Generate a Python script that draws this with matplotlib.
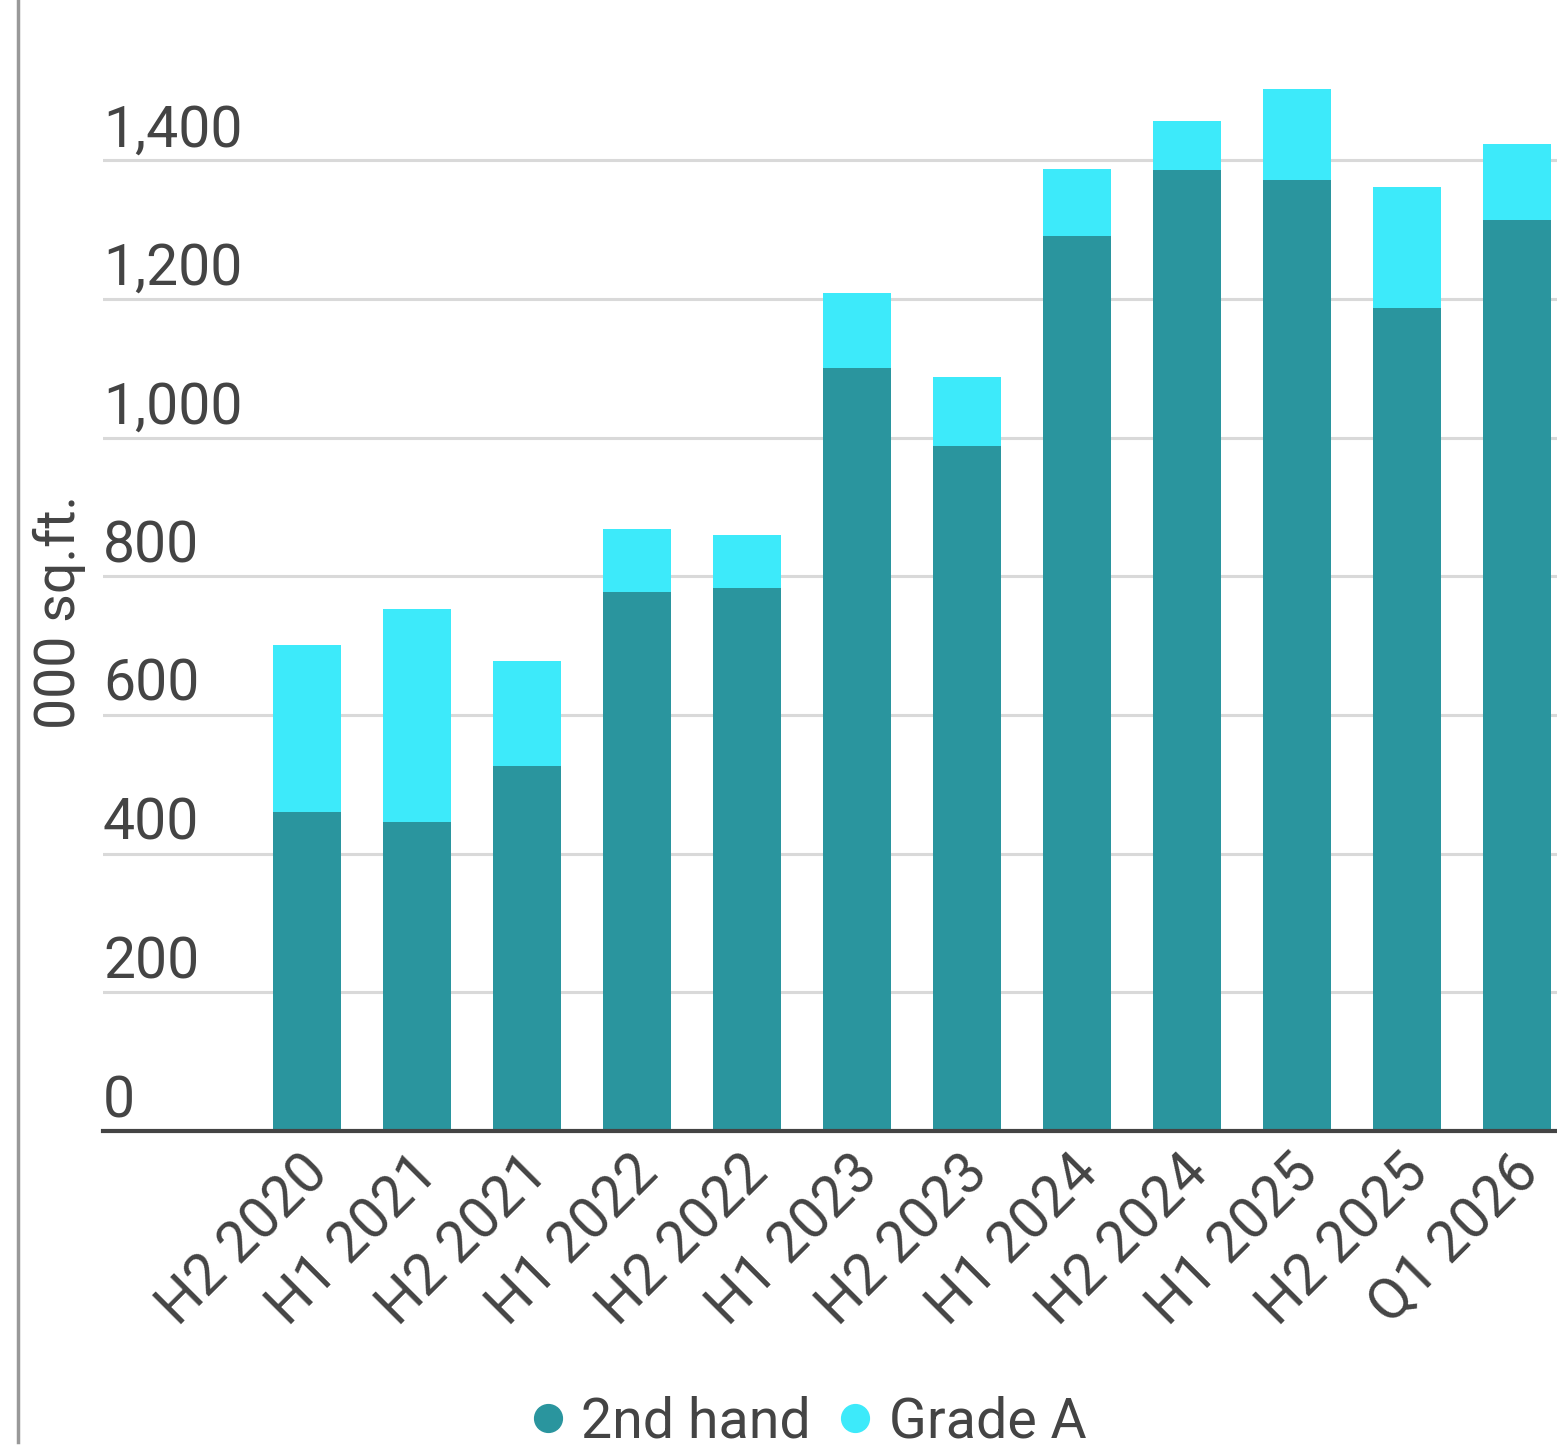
import matplotlib
matplotlib.use("Agg")
import matplotlib.pyplot as plt
from matplotlib.lines import Line2D
import matplotlib.transforms as mtransforms
import numpy as np

plt.rcParams['font.family'] = ['Roboto', 'DejaVu Sans']

periods = ['H2 2020', 'H1 2021', 'H2 2021', 'H1 2022', 'H2 2022', 'H1 2023',
           'H2 2023', 'H1 2024', 'H2 2024', 'H1 2025', 'H2 2025', 'Q1 2026']
second_hand = [460, 445, 526, 777, 783, 1100, 988, 1290, 1386, 1371, 1187, 1314]
grade_a = [241, 308, 152, 91, 76, 108, 99, 97, 70, 131, 174, 110]
y_ticks = [0, 200, 400, 600, 800, 1000, 1200, 1400]

dark = '#2A959E'
light = '#3DEAFA'
text_col = '#444444'

fig = plt.figure(figsize=(15.57, 14.55), dpi=100)
ax = fig.add_axes([103 / 1557, 324 / 1455, 1 - 103 / 1557, 1 - 324 / 1455])

x = np.arange(len(periods))
ax.bar(x, second_hand, width=0.618, color=dark, zorder=3)
ax.bar(x, grade_a, width=0.618, bottom=second_hand, color=light, zorder=3)

ax.set_xlim(-1.855, 11.364)
ax.set_ylim(0, 1631)

for v in y_ticks[1:]:
    ax.axhline(v, color='#d9d9d9', lw=2.2, zorder=1)

for s in ['top', 'right', 'left']:
    ax.spines[s].set_visible(False)
ax.spines['bottom'].set_color(text_col)
ax.spines['bottom'].set_linewidth(3)
ax.spines['bottom'].set_zorder(4)

ax.set_yticks([])
ax.tick_params(axis='x', length=0, pad=24)
ax.set_xticks(x)
ax.set_xticklabels(periods, rotation=45, ha='right', va='center',
                   rotation_mode='anchor', fontsize=41, color=text_col)
shift = mtransforms.ScaledTranslation(13 / 100, 0, fig.dpi_scale_trans)
for lab in ax.get_xticklabels():
    lab.set_transform(lab.get_transform() + shift)

trans = mtransforms.offset_copy(ax.get_yaxis_transform(), fig=fig, x=0, y=14, units='dots')
for v in y_ticks:
    ax.text(0, v, f'{v:,}', transform=trans, ha='left', va='baseline',
            fontsize=41, color=text_col)

fig.text(59 / 1557, 1 - 612 / 1455, '000 sq.ft.', rotation=90, ha='center', va='center',
         fontsize=40, color=text_col)

fig.add_artist(Line2D([18 / 1557, 18 / 1557], [1 - 1442 / 1455, 1],
                      transform=fig.transFigure, color='#999999', lw=2.5))

handles = [Line2D([], [], marker='o', ls='', markersize=20, color=dark),
           Line2D([], [], marker='o', ls='', markersize=20, color=light)]
fig.legend(handles, ['2nd hand', 'Grade A'], loc='center', bbox_to_anchor=(803 / 1557, 1 - 1422 / 1455),
           ncol=2, frameon=False, fontsize=40, labelcolor=text_col,
           handletextpad=0.1, columnspacing=0.3, handlelength=1.0)

fig.savefig('out.png', dpi=100)
